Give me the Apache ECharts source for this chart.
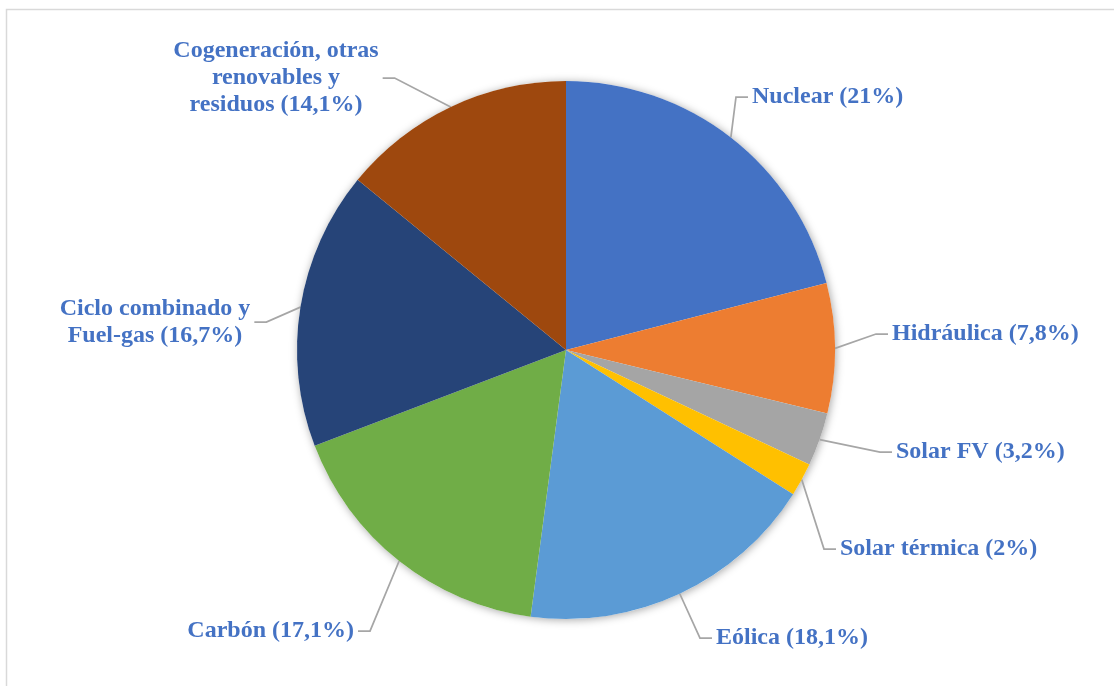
<!DOCTYPE html>
<html>
<head>
<meta charset="utf-8">
<script src="https://cdn.jsdelivr.net/npm/echarts@6/dist/echarts.min.js"></script>
<style>
  html, body { margin: 0; padding: 0; background: #ffffff; }
  #chart { width: 1114px; height: 686px; }
</style>
</head>
<body>
<div id="chart"></div>
<script>
// Electricity generation mix by source (%)
const categories = [
  'Nuclear',
  'Hidráulica',
  'Solar FV',
  'Solar térmica',
  'Eólica',
  'Carbón',
  'Ciclo combinado y\nFuel-gas',
  'Cogeneración, otras\nrenovables y\nresiduos'
];
const shares = [21, 7.8, 3.2, 2, 18.1, 17.1, 16.7, 14.1];
const valueTexts = ['21', '7,8', '3,2', '2', '18,1', '17,1', '16,7', '14,1'];

const sliceColors = ['#4472C4', '#ED7D31', '#A5A5A5', '#FFC000', '#5B9BD5', '#70AD47', '#264478', '#9E480E'];

// Label anchor placement (outer edge of the padded label box): [x, y, textAlign]
const labelSpots = [
  [748, 97, 'left'],
  [888, 334, 'left'],
  [892, 452, 'left'],
  [836, 549, 'left'],
  [712, 638, 'left'],
  [358, 631, 'right'],
  [155, 322, 'center'],
  [276, 78, 'center']
];

const center = [566, 350];
const radius = 269;

const chart = echarts.init(document.getElementById('chart'), null, { renderer: 'canvas' });

chart.setOption({
  backgroundColor: '#ffffff',
  animation: false,
  graphic: [{
    type: 'rect',
    shape: { x: 6.5, y: 9.5, width: 1200, height: 800 },
    style: { fill: 'none', stroke: '#D9D9D9', lineWidth: 1.5 },
    silent: true,
    z: -10
  }],
  series: [
    {
      // soft shadow disc under the pie
      type: 'pie',
      center: center,
      radius: radius,
      silent: true,
      label: { show: false },
      labelLine: { show: false },
      itemStyle: {
        color: '#ffffff',
        shadowBlur: 8,
        shadowColor: 'rgba(0,0,0,0.35)',
        shadowOffsetX: 1,
        shadowOffsetY: 1
      },
      data: [{ value: 1 }],
      z: 1
    },
    {
      type: 'pie',
      center: center,
      radius: radius,
      startAngle: 90,
      clockwise: true,
      z: 2,
      itemStyle: { borderWidth: 0 },
      data: categories.map((name, i) => ({
        name: name,
        value: shares[i],
        itemStyle: { color: sliceColors[i] }
      })),
      label: {
        show: true,
        formatter: p => p.name + ' (' + valueTexts[p.dataIndex] + '%)',
        fontFamily: '"Liberation Serif", "Times New Roman", serif',
        fontWeight: 'bold',
        fontSize: 24,
        lineHeight: 27,
        padding: [0, 4],
        color: '#4472C4'
      },
      labelLine: {
        show: true,
        length: 10,
        length2: 12,
        smooth: false,
        lineStyle: { color: '#A6A6A6', width: 1.75 }
      },
      labelLayout: p => {
        const s = labelSpots[p.dataIndex];
        return { x: s[0], y: s[1], align: s[2], verticalAlign: 'middle' };
      }
    }
  ]
});
</script>
</body>
</html>
